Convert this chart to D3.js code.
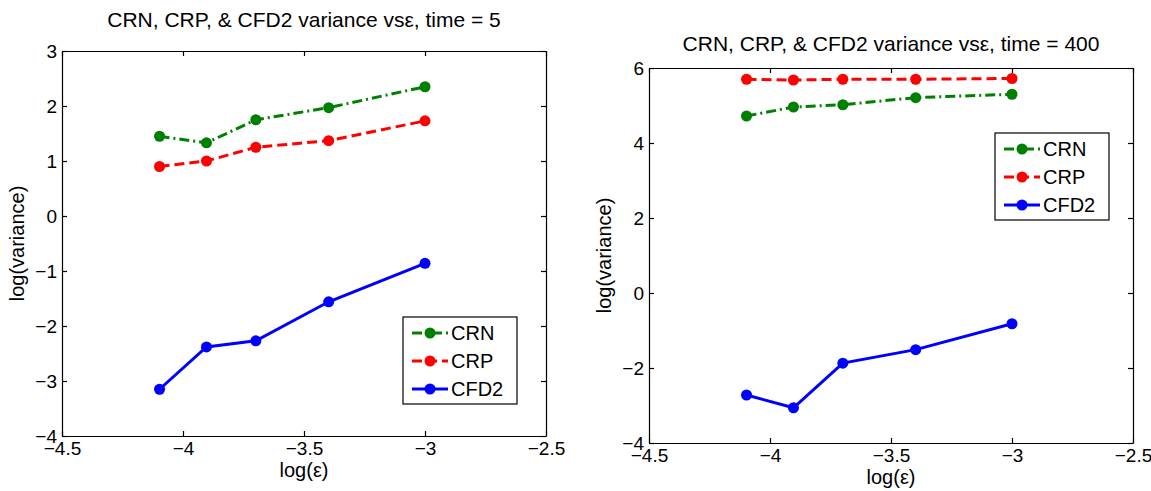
<!DOCTYPE html>
<meta charset="utf-8">
<head>
    <meta charset="utf-8">
    <title>CRN, CRP, CFD2 variance</title>
    <script src="https://d3js.org/d3.v7.min.js" charset="utf-8"></script>
    <style>
        html, body {
            margin: 0;
            padding: 0;
            background: #fff;
        }
        svg text {
            font-family: "Liberation Sans", Arial, sans-serif;
            fill: #000;
        }
        .axis path, .axis line {
            stroke: #000;
            stroke-width: 1.2px;
        }
        .line {
            fill: none;
            stroke-width: 3px;
        }
    </style>
</head>
<body>
<svg width="1151" height="491"></svg>
<script>

// log10(epsilon) values
var logEps = [-4.097, -3.903, -3.699, -3.398, -3.0];

// time = 5
var crn5 = [1.45, 1.33, 1.75, 1.97, 2.35];
var crp5 = [0.90, 1.00, 1.25, 1.37, 1.73];
var cfd5 = [-3.15, -2.38, -2.27, -1.56, -0.86];

// time = 400
var crn400 = [4.72, 4.96, 5.02, 5.21, 5.30];
var crp400 = [5.70, 5.68, 5.70, 5.70, 5.72];
var cfd400 = [-2.72, -3.06, -1.87, -1.51, -0.82];

var seriesNames = ["CRN", "CRP", "CFD2"];
var xTicks = [-4.5, -4, -3.5, -3, -2.5];
var yTicks5 = [3, 2, 1, 0, -1, -2, -3, -4];
var yTicks400 = [6, 4, 2, 0, -2, -4];

var styles = {
    CRN:  {color: "#008000", dash: "10,4,2,4"},
    CRP:  {color: "#ff0000", dash: "10,5"},
    CFD2: {color: "#0000ff", dash: null}
};

var fmt = d3.format("");
var svg = d3.select("svg");

function drawPanel(p) {
    var x = d3.scaleLinear().domain([-4.5, -2.5]).range([p.left, p.right]);
    var y = d3.scaleLinear().domain(p.yDomain).range([p.bottom, p.top]);
    var g = svg.append("g");

    // axes, ticks inside, box on all four sides
    g.append("g").attr("class", "axis")
        .attr("transform", "translate(0," + p.bottom + ")")
        .call(d3.axisBottom(x).tickValues(xTicks).tickFormat(fmt).tickSize(-5).tickSizeOuter(0).tickPadding(6))
        .selectAll("text").style("font-size", "19px");
    g.append("g").attr("class", "axis")
        .attr("transform", "translate(0," + p.top + ")")
        .call(d3.axisTop(x).tickValues(xTicks).tickSize(-5).tickSizeOuter(0).tickFormat(""));
    g.append("g").attr("class", "axis")
        .attr("transform", "translate(" + p.left + ",0)")
        .call(d3.axisLeft(y).tickValues(p.yTicks).tickFormat(fmt).tickSize(-5).tickSizeOuter(0).tickPadding(5))
        .selectAll("text").style("font-size", "19px");
    g.append("g").attr("class", "axis")
        .attr("transform", "translate(" + p.right + ",0)")
        .call(d3.axisRight(y).tickValues(p.yTicks).tickSize(-5).tickSizeOuter(0).tickFormat(""));

    var line = d3.line()
        .x(function(d) { return x(d[0]); })
        .y(function(d) { return y(d[1]); });

    p.series.forEach(function(vals, i) {
        var st = styles[seriesNames[i]];
        var pts = logEps.map(function(e, j) { return [e, vals[j]]; });
        g.append("path")
            .datum(pts)
            .attr("class", "line")
            .attr("stroke", st.color)
            .attr("stroke-dasharray", st.dash)
            .attr("d", line);
        g.selectAll(null)
            .data(pts)
            .enter().append("circle")
            .attr("cx", function(d) { return x(d[0]); })
            .attr("cy", function(d) { return y(d[1]); })
            .attr("r", 5.5)
            .attr("fill", st.color);
    });

    // title and labels
    g.append("text")
        .attr("x", (p.left + p.right) / 2)
        .attr("y", p.titleY)
        .attr("text-anchor", "middle")
        .style("font-size", "21px")
        .text(p.title);
    g.append("text")
        .attr("x", (p.left + p.right) / 2)
        .attr("y", p.bottom + 41)
        .attr("text-anchor", "middle")
        .style("font-size", "20px")
        .text("log(ε)");
    g.append("text")
        .attr("transform", "translate(" + (p.left - 38) + "," + ((p.top + p.bottom) / 2) + ") rotate(-90)")
        .attr("text-anchor", "middle")
        .style("font-size", "20px")
        .text("log(variance)");

    // legend
    var lg = g.append("g").attr("transform", "translate(" + p.legX + "," + p.legY + ")");
    lg.append("rect")
        .attr("width", 114)
        .attr("height", 87)
        .attr("fill", "#fff")
        .attr("stroke", "#000")
        .attr("stroke-width", 1.2);
    seriesNames.forEach(function(name, i) {
        var st = styles[name];
        var ry = 16 + i * 28;
        lg.append("line")
            .attr("x1", 9).attr("x2", 45)
            .attr("y1", ry).attr("y2", ry)
            .attr("stroke", st.color)
            .attr("stroke-width", 3)
            .attr("stroke-dasharray", st.dash);
        lg.append("circle")
            .attr("cx", 27).attr("cy", ry).attr("r", 5.5)
            .attr("fill", st.color);
        lg.append("text")
            .attr("x", 48).attr("y", ry)
            .attr("dy", "0.36em")
            .style("font-size", "20px")
            .text(name);
    });
}

drawPanel({
    left: 62, right: 546, top: 51, bottom: 436,
    yDomain: [-4, 3], yTicks: yTicks5,
    series: [crn5, crp5, cfd5],
    title: "CRN, CRP, & CFD2 variance vsε, time = 5",
    titleY: 27,
    legX: 403, legY: 317
});

drawPanel({
    left: 649, right: 1133, top: 68, bottom: 443,
    yDomain: [-4, 6], yTicks: yTicks400,
    series: [crn400, crp400, cfd400],
    title: "CRN, CRP, & CFD2 variance vsε, time = 400",
    titleY: 51,
    legX: 995, legY: 133
});

</script>
</body>
</html>
